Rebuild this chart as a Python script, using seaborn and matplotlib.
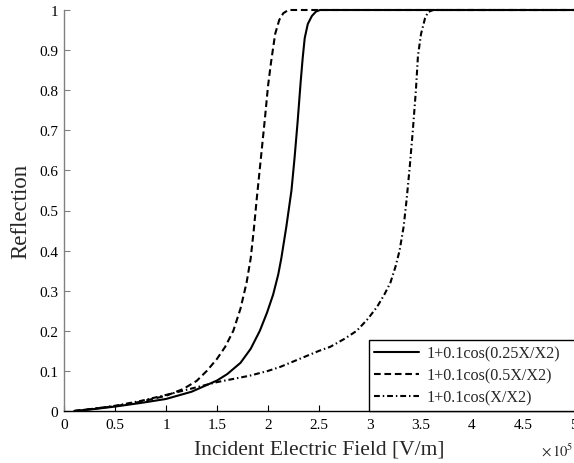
import numpy as np
import pandas as pd
import matplotlib
matplotlib.use("Agg")
import matplotlib.pyplot as plt
import seaborn as sns

# Data (X in units of 1e5 V/m)
x_025 = [0.1, 0.3, 0.5, 0.75, 1.0, 1.25, 1.5, 1.6, 1.73, 1.83, 1.92, 1.99, 2.05, 2.10, 2.13, 2.18, 2.23,
         2.26, 2.29, 2.32, 2.34, 2.36, 2.39, 2.43, 2.47, 2.51, 5.0]
r_025 = [0.0, 0.005, 0.011, 0.02, 0.03, 0.048, 0.076, 0.092, 0.12, 0.155, 0.20, 0.245, 0.29, 0.34, 0.38, 0.46, 0.55,
         0.63, 0.72, 0.82, 0.88, 0.93, 0.965, 0.985, 0.996, 1.0, 1.0]

x_05 = [0.1, 0.3, 0.5, 0.75, 1.0, 1.17, 1.3, 1.4, 1.5, 1.58, 1.66, 1.73, 1.79, 1.83, 1.86, 1.89, 1.93, 1.97,
        2.0, 2.03, 2.07, 2.11, 2.15, 2.2, 5.0]
r_05 = [0.0, 0.006, 0.012, 0.023, 0.038, 0.055, 0.075, 0.10, 0.13, 0.16, 0.20, 0.255, 0.32, 0.38, 0.45, 0.53, 0.63, 0.73,
        0.81, 0.87, 0.94, 0.975, 0.992, 1.0, 1.0]

x_1 = [0.1, 0.3, 0.5, 0.75, 1.0, 1.25, 1.5, 1.82, 2.0, 2.12, 2.31, 2.5, 2.61, 2.75, 2.87, 2.98, 3.07, 3.14, 3.20,
       3.25, 3.29, 3.33, 3.36, 3.39, 3.42, 3.45, 3.47, 3.50, 3.54, 3.57, 3.62, 5.0]
r_1 = [0.0, 0.006, 0.013, 0.025, 0.04, 0.056, 0.072, 0.088, 0.10, 0.11, 0.13, 0.15, 0.16, 0.18, 0.20, 0.23, 0.26, 0.29, 0.32,
       0.36, 0.40, 0.46, 0.53, 0.61, 0.70, 0.80, 0.885, 0.94, 0.98, 0.995, 1.0, 1.0]

labels = ["1+0.1cos(0.25X/X2)", "1+0.1cos(0.5X/X2)", "1+0.1cos(X/X2)"]
xticks = [0, 0.5, 1, 1.5, 2, 2.5, 3, 3.5, 4, 4.5, 5]
xticklabels = ["0", "0.5", "1", "1.5", "2", "2.5", "3", "3.5", "4", "4.5", "5"]
yticks = [0, 0.1, 0.2, 0.3, 0.4, 0.5, 0.6, 0.7, 0.8, 0.9, 1]
yticklabels = ["0", "0.1", "0.2", "0.3", "0.4", "0.5", "0.6", "0.7", "0.8", "0.9", "1"]

sns.set_theme(style="white")
plt.rcParams['font.family'] = ['Liberation Serif', 'DejaVu Serif']
plt.rcParams['mathtext.fontset'] = 'stix'

fig = plt.figure(figsize=(5.74, 4.64), dpi=100)
ax = fig.add_axes([64/574, 1 - 412/464, 1 - 64/574, (412 - 11)/464])

styles = ["-", (0, (3.2, 1.8)), (0, (2.8, 1.4, 0.7, 1.4))]
for xs, rs, lab, ls in zip([x_025, x_05, x_1], [r_025, r_05, r_1], labels, styles):
    df = pd.DataFrame({"x": xs, "r": rs})
    sns.lineplot(data=df, x="x", y="r", ax=ax, color="black", linestyle=ls,
                 linewidth=1.5, label=lab, clip_on=False, estimator=None, sort=False)

ax.set_xlim(0, 5)
ax.set_ylim(0, 1)
ax.set_xticks(xticks)
ax.set_xticklabels(xticklabels, fontsize=11)
ax.set_yticks(yticks)
ax.set_yticklabels(yticklabels, fontsize=11)
ax.tick_params(axis='x', bottom=True, direction='in', length=4, width=0.8, colors='black', pad=5)
ax.tick_params(axis='y', left=True, direction='in', length=4, width=0.8, color='#808080', labelcolor='black', pad=4)
for s in ['top', 'right']:
    ax.spines[s].set_visible(False)
ax.spines['left'].set_color('#808080')
ax.spines['left'].set_linewidth(1.0)
ax.spines['bottom'].set_color('black')
ax.spines['bottom'].set_linewidth(1.0)

ax.set_xlabel("Incident Electric Field [V/m]", fontsize=15.5, labelpad=6)
ax.set_ylabel("Reflection", fontsize=16.5, labelpad=6)

leg = ax.legend(loc='lower left', bbox_to_anchor=(0.598, 0.0, 0.45, 0.18), mode='expand',
                borderaxespad=0.0, fontsize=11.6,
                frameon=True, fancybox=False, edgecolor='black', framealpha=1,
                handlelength=2.8, borderpad=0.33, labelspacing=0.38, handletextpad=0.43)
leg.get_frame().set_linewidth(1.0)

fig.text(541/574, 1 - 451/464, r"$\times\,10^{5}$", fontsize=10.5, ha='left', va='center')

fig.savefig("out.png", dpi=100)
